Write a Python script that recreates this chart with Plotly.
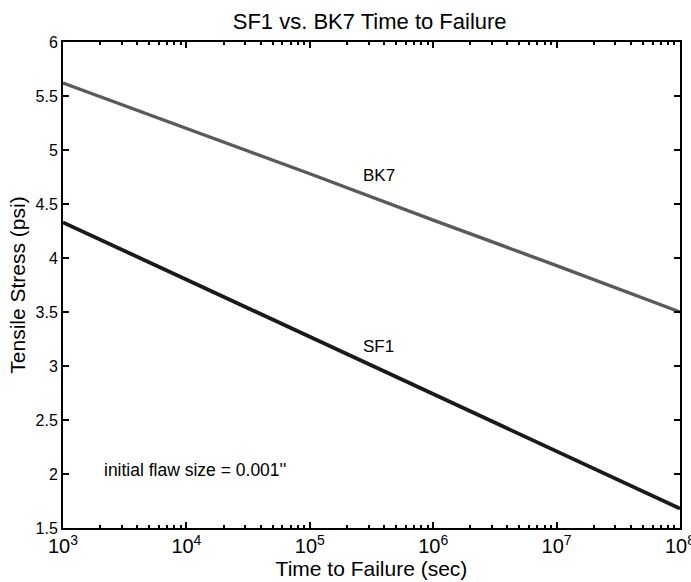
import plotly.graph_objects as go

time_sec = [1e3, 1e4, 1e5, 1e6, 1e7, 1e8]
bk7_stress = [5.62, 5.20, 4.78, 4.35, 3.93, 3.50]
sf1_stress = [4.33, 3.80, 3.27, 2.74, 2.21, 1.68]

fig = go.Figure()
fig.add_trace(go.Scatter(x=time_sec, y=bk7_stress, mode="lines", name="BK7",
                         line=dict(color="#5a5a5a", width=3.4)))
fig.add_trace(go.Scatter(x=time_sec, y=sf1_stress, mode="lines", name="SF1",
                         line=dict(color="#1a1a1a", width=3.8)))

font = "Liberation Sans, Arial, sans-serif"
fig.add_annotation(x=5.56, y=4.76, xref="x", yref="y", text="BK7", showarrow=False,
                   font=dict(family=font, size=17, color="black"))
fig.add_annotation(x=5.56, y=3.185, xref="x", yref="y", text="SF1", showarrow=False,
                   font=dict(family=font, size=17, color="black"))
fig.add_annotation(x=3.316, y=2.04, xref="x", yref="y", text="initial flaw size = 0.001''",
                   showarrow=False, xanchor="left",
                   font=dict(family=font, size=17.5, color="black"))

fig.update_layout(
    width=691, height=582,
    margin=dict(l=63, r=11, t=42, b=54, autoexpand=False),
    paper_bgcolor="white", plot_bgcolor="white",
    showlegend=False,
    font=dict(family=font, color="black"),
    title=dict(text="SF1 vs. BK7 Time to Failure", x=0.535, xanchor="center",
               y=1 - 21 / 582, yanchor="middle", automargin=False,
               font=dict(size=22, family=font, color="black")),
)
fig.update_xaxes(type="log", range=[3, 8.0001], dtick=1, exponentformat="power",
                 showgrid=False, zeroline=False, automargin=False,
                 ticklabeloverflow="allow",
                 showline=True, linecolor="black", linewidth=2, mirror="ticks",
                 ticks="inside", ticklen=6, tickwidth=2, tickcolor="black",
                 tickfont=dict(size=16, family=font, color="black"),
                 minor=dict(ticks="inside", ticklen=3, tickwidth=2, tickcolor="black", showgrid=False),
                 title=dict(text="Time to Failure (sec)", font=dict(size=21, family=font), standoff=0))
fig.update_yaxes(range=[1.5, 6], dtick=0.5, showgrid=False, zeroline=False, automargin=False,
                 showline=True, linecolor="black", linewidth=2, mirror="ticks",
                 ticks="inside", ticklen=6, tickwidth=2, tickcolor="black",
                 tickfont=dict(size=16, family=font, color="black"),
                 title=dict(text="Tensile Stress (psi)", font=dict(size=21, family=font), standoff=4))

fig.write_html("out.html", config={"displayModeBar": False},
               post_script="document.body.style.margin='0px';")
